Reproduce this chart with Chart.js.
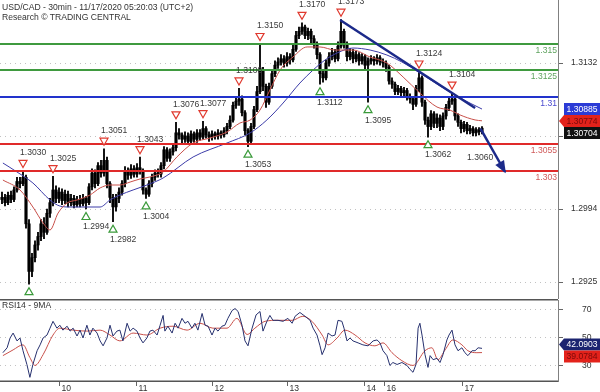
<!DOCTYPE html>
<html><head><meta charset="utf-8">
<script src="https://cdn.jsdelivr.net/npm/chart.js@4/dist/chart.umd.min.js"></script>
<style>
html,body{margin:0;padding:0;background:#fff;}
#wrap{position:relative;width:600px;height:392px;overflow:hidden;font-family:"Liberation Sans",Arial,sans-serif;}
#main{position:absolute;left:0;top:0;}
#rsi{position:absolute;left:0;top:299px;}
.hdr{position:absolute;left:2px;font-size:8.6px;color:#333;line-height:10px;white-space:nowrap;}
</style></head><body>
<div id="wrap">
<canvas id="main" width="600" height="299"></canvas>
<canvas id="rsi" width="600" height="93"></canvas>
<div class="hdr" style="top:1.5px">USD/CAD - 30min - 11/17/2020 05:20:03 (UTC+2)</div>
<div class="hdr" style="top:11.5px">Research © TRADING CENTRAL</div>
<div class="hdr" style="top:300px">RSI14 - 9MA</div>
</div>
<script>
// ---- price bars (30-min candles, bar index 0..160) ----
const open = [1.3003,1.3005,1.3000,1.3007,1.3003,1.3012,1.3020,1.3018,1.3024,1.2980,
1.2935,1.2948,1.2960,1.2968,1.2980,1.2972,1.2990,1.3000,1.3012,1.3004,
1.3010,1.3002,1.3008,1.3000,1.3004,1.2998,1.3003,1.2999,1.3004,1.3000,
1.3015,1.3028,1.3018,1.3035,1.3028,1.3040,1.3018,1.3005,1.2996,1.3004,
1.3010,1.3018,1.3030,1.3026,1.3032,1.3027,1.3033,1.3030,1.3012,1.3008,
1.3018,1.3024,1.3028,1.3027,1.3035,1.3050,1.3042,1.3048,1.3052,1.3066,
1.3064,1.3060,1.3063,1.3058,1.3065,1.3060,1.3066,1.3062,1.3070,1.3064,
1.3062,1.3065,1.3063,1.3066,1.3064,1.3068,1.3072,1.3078,1.3092,1.3096,
1.3098,1.3085,1.3068,1.3058,1.3072,1.3088,1.3105,1.3125,1.3110,1.3095,
1.3110,1.3122,1.3130,1.3133,1.3136,1.3132,1.3138,1.3135,1.3145,1.3158,
1.3162,1.3166,1.3158,1.3162,1.3155,1.3150,1.3140,1.3122,1.3118,1.3132,
1.3138,1.3142,1.3136,1.3148,1.3162,1.3150,1.3138,1.3142,1.3136,1.3140,
1.3134,1.3138,1.3130,1.3134,1.3136,1.3134,1.3137,1.3133,1.3132,1.3128,
1.3115,1.3112,1.3105,1.3108,1.3104,1.3106,1.3100,1.3098,1.3093,1.3108,
1.3118,1.3095,1.3078,1.3072,1.3084,1.3075,1.3080,1.3072,1.3082,1.3090,
1.3096,1.3098,1.3082,1.3076,1.3070,1.3074,1.3068,1.3070,1.3066,1.3069,
1.3067];
const close = [1.3005,1.3000,1.3007,1.3003,1.3012,1.3020,1.3018,1.3024,1.2980,1.2935,
1.2948,1.2960,1.2968,1.2980,1.2972,1.2990,1.3000,1.3012,1.3004,1.3010,
1.3002,1.3008,1.3000,1.3004,1.2998,1.3003,1.2999,1.3004,1.3000,1.3015,
1.3028,1.3018,1.3035,1.3028,1.3040,1.3018,1.3005,1.2996,1.3004,1.3010,
1.3018,1.3030,1.3026,1.3032,1.3027,1.3033,1.3030,1.3012,1.3008,1.3018,
1.3024,1.3028,1.3027,1.3035,1.3050,1.3042,1.3048,1.3052,1.3066,1.3064,
1.3060,1.3063,1.3058,1.3065,1.3060,1.3066,1.3062,1.3070,1.3064,1.3062,
1.3065,1.3063,1.3066,1.3064,1.3068,1.3072,1.3078,1.3092,1.3096,1.3098,
1.3085,1.3068,1.3058,1.3072,1.3088,1.3105,1.3125,1.3110,1.3095,1.3110,
1.3122,1.3130,1.3133,1.3136,1.3132,1.3138,1.3135,1.3145,1.3158,1.3162,
1.3166,1.3158,1.3162,1.3155,1.3150,1.3140,1.3122,1.3118,1.3132,1.3138,
1.3142,1.3136,1.3148,1.3162,1.3150,1.3138,1.3142,1.3136,1.3140,1.3134,
1.3138,1.3130,1.3134,1.3136,1.3134,1.3137,1.3133,1.3132,1.3128,1.3115,
1.3112,1.3105,1.3108,1.3104,1.3106,1.3100,1.3098,1.3093,1.3108,1.3118,
1.3095,1.3078,1.3072,1.3084,1.3075,1.3080,1.3072,1.3082,1.3090,1.3096,
1.3098,1.3082,1.3076,1.3070,1.3074,1.3068,1.3070,1.3066,1.3069,1.3067,
1.30704];
const high = [1.3010,1.3008,1.3010,1.3011,1.3015,1.3024,1.3024,1.3030,1.3026,1.2984,
1.2952,1.2964,1.2972,1.2984,1.2986,1.2994,1.3004,1.3025,1.3016,1.3014,
1.3013,1.3012,1.3011,1.3008,1.3007,1.3006,1.3007,1.3008,1.3006,1.3018,
1.3032,1.3031,1.3038,1.3040,1.3051,1.3043,1.3020,1.3008,1.3008,1.3014,
1.3021,1.3034,1.3033,1.3036,1.3035,1.3037,1.3043,1.3032,1.3014,1.3021,
1.3027,1.3031,1.3032,1.3038,1.3053,1.3052,1.3051,1.3056,1.3076,1.3070,
1.3066,1.3067,1.3066,1.3068,1.3067,1.3069,1.3069,1.3077,1.3072,1.3067,
1.3068,1.3067,1.3069,1.3068,1.3071,1.3075,1.3082,1.3095,1.3100,1.3108,
1.3101,1.3087,1.3070,1.3075,1.3091,1.3110,1.3150,1.3128,1.3112,1.3113,
1.3126,1.3134,1.3137,1.3140,1.3139,1.3142,1.3141,1.3149,1.3162,1.3166,
1.3170,1.3168,1.3165,1.3164,1.3158,1.3152,1.3142,1.3125,1.3135,1.3142,
1.3146,1.3145,1.3152,1.3173,1.3164,1.3152,1.3146,1.3145,1.3143,1.3142,
1.3141,1.3140,1.3137,1.3139,1.3138,1.3140,1.3139,1.3136,1.3134,1.3130,
1.3118,1.3114,1.3111,1.3110,1.3109,1.3108,1.3103,1.3100,1.3111,1.3124,
1.3120,1.3097,1.3081,1.3087,1.3086,1.3084,1.3083,1.3085,1.3093,1.3099,
1.3104,1.3100,1.3084,1.3078,1.3077,1.3076,1.3073,1.3072,1.3071,1.3071,
1.3072];
const low = [1.2999,1.2997,1.2998,1.3000,1.3001,1.3010,1.3014,1.3016,1.2976,1.2923,
1.2930,1.2944,1.2955,1.2964,1.2966,1.2970,1.2986,1.2997,1.3000,1.3000,
1.2998,1.2999,1.2996,1.2997,1.2995,1.2996,1.2996,1.2997,1.2994,1.2998,
1.3012,1.3014,1.3016,1.3024,1.3025,1.3014,1.3000,1.2982,1.2992,1.3000,
1.3007,1.3015,1.3022,1.3023,1.3024,1.3024,1.3027,1.3008,1.3004,1.3006,
1.3015,1.3021,1.3024,1.3024,1.3032,1.3039,1.3039,1.3045,1.3049,1.3060,
1.3056,1.3057,1.3055,1.3055,1.3057,1.3057,1.3059,1.3060,1.3061,1.3058,
1.3059,1.3060,1.3060,1.3061,1.3062,1.3065,1.3070,1.3076,1.3089,1.3092,
1.3082,1.3064,1.3053,1.3056,1.3070,1.3086,1.3103,1.3106,1.3090,1.3093,
1.3108,1.3119,1.3127,1.3130,1.3128,1.3129,1.3131,1.3133,1.3143,1.3155,
1.3159,1.3155,1.3154,1.3151,1.3146,1.3136,1.3112,1.3114,1.3116,1.3129,
1.3135,1.3133,1.3134,1.3146,1.3146,1.3134,1.3135,1.3132,1.3133,1.3130,
1.3131,1.3126,1.3095,1.3131,1.3130,1.3131,1.3130,1.3128,1.3124,1.3112,
1.3108,1.3102,1.3102,1.3100,1.3101,1.3097,1.3094,1.3088,1.3091,1.3105,
1.3091,1.3074,1.3062,1.3069,1.3071,1.3071,1.3068,1.3069,1.3079,1.3087,
1.3093,1.3078,1.3072,1.3066,1.3067,1.3065,1.3065,1.3063,1.3063,1.3064,
1.3065];

// ---- moving averages (bar index, price) ----
const maRedX = [0.3,6,10.3,13.7,16,18.7,21.7,25,29.3,32.7,36,39.3,42.7,46,49.3,53.7,58.3,63.7,69.3,75,79.3,82.7,86,89.3,92.7,97,101.7,106,111,117,122.7,128.3,133.7,139.3,145,149.3,152.7,157.7,160];
const maRedY = [1.30214,1.30120,1.29959,1.29808,1.29742,1.29902,1.29997,1.30025,1.30072,1.30139,1.30167,1.30167,1.30195,1.30224,1.30243,1.30290,1.30432,1.30564,1.30611,1.30668,1.30753,1.30781,1.30876,1.31065,1.31254,1.31377,1.31472,1.31472,1.31443,1.31443,1.31377,1.31320,1.31188,1.31037,1.30904,1.30876,1.30829,1.30782,1.30774];
const maBlueX = [0.3,5,10.3,16,19.3,22.7,27,32.7,36,39.3,43.7,48.3,53.7,63.7,75,82.7,88.3,93.7,99.3,103.7,107.7,111.7,117,122.7,128.3,133.3,139.3,146,152.7,160];
const maBlueY = [1.30375,1.30290,1.30186,1.30025,1.29968,1.29959,1.29959,1.29959,1.30025,1.30072,1.30120,1.30167,1.30233,1.30432,1.30564,1.30659,1.30782,1.30942,1.31131,1.31254,1.31349,1.31415,1.31462,1.31443,1.31396,1.31330,1.31226,1.31103,1.30990,1.30885];

// ---- levels, trend line, projection ----
const levels = [1.3150, 1.3125, 1.3100, 1.3055, 1.3030];
const levelLabels = ['1.315', '1.3125', '1.31', '1.3055', '1.303'];
const levelColors = ['#3f9a3f', '#3f9a3f', '#2233cc', '#e02a2a', '#e02a2a'];
const levelTextColors = ['#5fa35f', '#5fa35f', '#4a4ad0', '#d05a5a', '#d05a5a'];
const trendX = [112.7, 157.7];
const trendY = [1.31727, 1.30895];
const arrowX = [159.5, 167.7];
const arrowY = [1.3070, 1.3029];

// ---- swing markers ----
const highIdx = [7,17,34,46,58,67,79,86,100,113,139,150];
const highVal = [1.3030,1.3025,1.3051,1.3043,1.3076,1.3077,1.3108,1.3150,1.3170,1.3173,1.3124,1.3104];
const highLbl = ['1.3030','1.3025','1.3051','1.3043','1.3076','1.3077','1.3108','1.3150','1.3170','1.3173','1.3124','1.3104'];
const lowIdx = [9,28,37,48,82,106,122,142];
const lowVal = [1.2923,1.2994,1.2982,1.3004,1.3053,1.3112,1.3095,1.3062];
const lowLbl = ['1.2923','1.2994','1.2982','1.3004','1.3053','1.3112','1.3095','1.3062'];
const targetIdx = [156];
const targetVal = [1.3060];
const targetLbl = ['1.3060'];

// ---- axes ----
const priceTicks = [1.3132, 1.3063, 1.2994, 1.2925];
const rsiTicks = [30, 50, 70];
const dayPos = [19, 44.67, 70, 95, 120.67, 127.33, 153.33];
const dayLbl = ['10','11','12','13','14','16','17'];

// ---- RSI14 and its 9MA (bar index, value) ----
const rsiX = [0.3,1.7,2.7,3.7,5,6,7,8.3,9.3,10.3,11.7,12.7,13.7,15,16,17,18.3,19.3,20.3,21.7,
22.7,23.7,25,26,27,28.3,29.3,30.3,31.7,32.7,33.7,35,36,37,38.3,39.3,40.3,41.7,42.7,43.7,
45,46,47,48.3,49.3,50.3,51.7,52.7,53.7,54.3,55.3,56.7,57.7,58.7,60,61,62,63.3,64.3,65.3,
66.7,67.7,68.7,70,71,72,73.3,74.3,75.3,76.7,77.7,78.7,80,81,82,83.3,84.7,86,87,88.3,
89.3,90.3,92,93.7,95.3,96.7,97.7,99.3,101,102.7,103.7,105,106,106.7,107.7,108.7,110,111,112,113.3,
114,115,116,117,118.7,120.3,122,123.7,125,126,127,128.3,129.3,130.3,131.7,133.3,135,136,137,138,
138.7,139.3,140,141,142,142.7,143.7,145,146,147,148.3,149,150,151,152,153.3,154.3,155.3,156.7,157.7,
158.7,160];
const rsiY = [39,42.5,49.5,53,47.4,49.5,40.4,30.6,21.4,30.6,40.4,44.6,49.5,51.6,56.5,61.4,56.5,58.6,55.1,57.9,
54.4,56.5,50.9,55.1,49.5,58.6,51.6,56.5,53,47.4,43.9,49.5,58.6,50.9,54.4,55.1,47.4,60,54.4,56.5,
54.4,49.5,46,49.5,54.4,55.1,51.6,58.6,65.6,54.4,57.9,53,60,56.5,63.5,60,61.4,56.5,60,55.1,
67,58.6,57.9,51.6,56.5,54.4,57.9,58.6,63.5,69.1,70.5,68.4,58.6,47.4,43.9,56,66,68.4,54.4,61.4,
65.6,62.1,62.1,61.4,63.5,60,65,67.7,65,62.1,56.5,51.6,43.9,37.6,42.5,53,50.9,51.6,62.1,61.4,
56.5,47.4,49.5,47.4,46,44.6,43.9,47.4,48.1,46,40.4,36.9,29.9,32,30.6,32,29.9,27.1,25,30.6,
56.5,60,51.6,37.6,28.5,36.9,34,35,32,37.6,48.1,51.6,55.1,44.6,40.4,42.5,39,36.9,40.4,40.4,
42.5,42.0903];
const rsiMaX = [0.3,3.7,7,9.3,11,13.7,17,19.3,23.7,28.3,32.7,36,39.3,43.7,48.3,52.7,57,61.7,66,70.3,75,78.3,81.7,84.3,87.7,92,96.7,100.3,103.3,106.7,108.7,111.7,114.3,117.7,121,124.3,127,130,133.3,137,141,143.3,145.3,147.7,150.3,153.3,155.3,158.3,160];
const rsiMaY = [36.9,41,44.6,35.5,29.9,37.6,51.6,56.5,55.1,54.4,55.1,51.6,47.4,53,51.6,56.5,57.9,55.1,60,56.5,56.5,63.5,52,56.5,61.4,62.1,62.1,65,61.4,51.6,44.6,49.5,55.1,51.6,46,43.9,46,39,33.3,29.9,40.4,42.5,34,41,48.1,44.6,40.4,39,39.0784];

// ================= drawing =================
const X_MIN = -0.6667, X_MAX = 185.3333;
const FONT = '8.6px "Liberation Sans", Arial, sans-serif';
Chart.defaults.font.family = '"Liberation Sans", Arial, sans-serif';
Chart.defaults.font.size = 8.6;
Chart.defaults.color = '#333';
const pts = (xs, ys) => xs.map((x, k) => ({x, y: ys[k]}));
const idx = close.map((_, i) => i);

function dotted(ctx, a, py) {
  ctx.save(); ctx.strokeStyle = '#c2c2c2'; ctx.lineWidth = 1; ctx.setLineDash([1, 4]);
  ctx.beginPath(); ctx.moveTo(a.left, Math.round(py) + 0.5); ctx.lineTo(a.right, Math.round(py) + 0.5); ctx.stroke();
  ctx.restore();
}
function stackBoxes(list, symmetric) {
  list.sort((p, q) => p.y - q.y);
  let push = 0;
  for (let k = 1; k < list.length; k++) {
    if (list[k].y - list[k - 1].y < 12) { const d = list[k - 1].y + 12 - list[k].y; list[k].y += d; push += d; }
  }
  if (symmetric) list.forEach(b => b.y -= push / 2);
  return list;
}
function drawBox(ctx, a, b) {
  const x0 = a.right + 6, x1 = 600, h = 12, yc = b.y;
  ctx.save();
  ctx.fillStyle = b.bg; ctx.beginPath();
  if (b.ptr) { ctx.moveTo(a.right + 1, yc); ctx.lineTo(x0, yc - h / 2); } else ctx.moveTo(x0, yc - h / 2);
  ctx.lineTo(x1, yc - h / 2); ctx.lineTo(x1, yc + h / 2); ctx.lineTo(x0, yc + h / 2); ctx.closePath(); ctx.fill();
  ctx.fillStyle = b.fg; ctx.font = FONT; ctx.textAlign = 'left'; ctx.textBaseline = 'middle';
  ctx.fillText(b.t, x0 + 2.5, yc + 0.5);
  ctx.restore();
}
function tri(ctx, px, cy, up, color) {
  ctx.save(); ctx.strokeStyle = color; ctx.lineWidth = 1.2; ctx.fillStyle = '#fff';
  ctx.beginPath();
  if (up) { ctx.moveTo(px - 4, cy + 3.5); ctx.lineTo(px + 4, cy + 3.5); ctx.lineTo(px, cy - 3.5); }
  else { ctx.moveTo(px - 4, cy - 3.5); ctx.lineTo(px + 4, cy - 3.5); ctx.lineTo(px, cy + 3.5); }
  ctx.closePath(); ctx.fill(); ctx.stroke(); ctx.restore();
}

const mainDeco = {
  id: 'mainDeco',
  beforeDatasetsDraw(chart) {
    const {ctx, chartArea: a, scales: {y}} = chart;
    priceTicks.forEach(v => dotted(ctx, a, y.getPixelForValue(v)));
  },
  beforeDatasetDraw(chart, args) {
    if (chart.data.datasets[args.index].label !== 'arrow') return;
    const {ctx, chartArea: a, scales: {y}} = chart;
    ctx.save();
    levels.forEach((v, k) => {
      const py = Math.round(y.getPixelForValue(v));
      ctx.strokeStyle = levelColors[k]; ctx.lineWidth = 2;
      ctx.beginPath(); ctx.moveTo(a.left, py); ctx.lineTo(a.right, py); ctx.stroke();
      ctx.fillStyle = levelTextColors[k]; ctx.font = FONT; ctx.textAlign = 'right'; ctx.textBaseline = 'top';
      ctx.fillText(levelLabels[k], a.right - 1, py + 2);
    });
    ctx.restore();
  },
  afterDatasetsDraw(chart) {
    const {ctx, scales: {x, y}} = chart;
    const x0 = x.getPixelForValue(arrowX[0]), y0 = y.getPixelForValue(arrowY[0]);
    const x1 = x.getPixelForValue(arrowX[1]), y1 = y.getPixelForValue(arrowY[1]);
    const ang = Math.atan2(y1 - y0, x1 - x0), L = 11, W = 5;
    ctx.save(); ctx.fillStyle = '#1c2a8a'; ctx.beginPath();
    ctx.moveTo(x1 + 1.5 * Math.cos(ang), y1 + 1.5 * Math.sin(ang));
    ctx.lineTo(x1 - L * Math.cos(ang) + W * Math.sin(ang), y1 - L * Math.sin(ang) - W * Math.cos(ang));
    ctx.lineTo(x1 - L * Math.cos(ang) - W * Math.sin(ang), y1 - L * Math.sin(ang) + W * Math.cos(ang));
    ctx.closePath(); ctx.fill(); ctx.restore();
  },
  afterDraw(chart) {
    const {ctx, chartArea: a, scales: {x, y}} = chart;
    ctx.save(); ctx.font = FONT; ctx.textAlign = 'left'; ctx.textBaseline = 'middle';
    highIdx.forEach((b, k) => {
      const px = x.getPixelForValue(b), py = y.getPixelForValue(highVal[k]);
      tri(ctx, px, py - 7, false, '#e0392e');
      ctx.fillStyle = '#3a3a3a'; ctx.fillText(highLbl[k], px - 3, py - 18);
    });
    lowIdx.forEach((b, k) => {
      const px = x.getPixelForValue(b), py = y.getPixelForValue(lowVal[k]);
      tri(ctx, px, py + 7, true, '#3a9a3a');
      if (py + 18 < a.bottom - 5) { ctx.fillStyle = '#3a3a3a'; ctx.fillText(lowLbl[k], px - 3, py + 18); }
    });
    targetIdx.forEach((b, k) => {
      const px = x.getPixelForValue(b), py = y.getPixelForValue(targetVal[k]);
      ctx.fillStyle = '#3a3a3a'; ctx.fillText(targetLbl[k], px - 3, py + 18);
    });
    ctx.restore();
    const boxes = stackBoxes([
      {y: y.getPixelForValue(maBlueY[maBlueY.length - 1]), t: maBlueY[maBlueY.length - 1].toFixed(5), bg: '#2b3bd6', fg: '#fff', ptr: false},
      {y: y.getPixelForValue(maRedY[maRedY.length - 1]), t: maRedY[maRedY.length - 1].toFixed(5), bg: '#e3221b', fg: '#7a0a0a', ptr: true},
      {y: y.getPixelForValue(close[close.length - 1]), t: close[close.length - 1].toFixed(5), bg: '#111', fg: '#fff', ptr: false}
    ], false);
    boxes.forEach(b => drawBox(ctx, a, b));
  }
};

new Chart(document.getElementById('main'), {
  type: 'bar',
  data: { datasets: [
    {type: 'line', label: 'trend', data: pts(trendX, trendY), borderColor: '#1c2a8a', borderWidth: 2.5, pointRadius: 0, order: 0},
    {type: 'line', label: 'arrow', data: pts(arrowX, arrowY), borderColor: '#1c2a8a', borderWidth: 2.5, pointRadius: 0, order: 1},
    {type: 'line', label: 'MA fast', data: pts(maRedX, maRedY), borderColor: '#c8504a', borderWidth: 1, pointRadius: 0, cubicInterpolationMode: 'monotone', order: 2},
    {type: 'line', label: 'MA slow', data: pts(maBlueX, maBlueY), borderColor: '#3c3ca8', borderWidth: 1, pointRadius: 0, cubicInterpolationMode: 'monotone', order: 3},
    {label: 'bodies', data: idx.map(i => ({x: i, y: [open[i], close[i]]})), backgroundColor: '#000', barThickness: 2.5, grouped: false, order: 4},
    {label: 'wicks', data: idx.map(i => ({x: i, y: [low[i], high[i]]})), backgroundColor: '#111', barThickness: 1.3, grouped: false, order: 5}
  ]},
  options: {
    responsive: false, animation: false, devicePixelRatio: 1,
    layout: {padding: {left: 0, right: 0, top: 0, bottom: 0}},
    plugins: {legend: {display: false}, tooltip: {enabled: false}},
    scales: {
      x: {type: 'linear', min: X_MIN, max: X_MAX, display: false, offset: false},
      y: {position: 'right', min: 1.290893, max: 1.319160,
        afterBuildTicks: ax => { ax.ticks = priceTicks.map(v => ({value: v})); },
        afterFit: ax => { ax.width = 42; ax.paddingTop = 0; ax.paddingBottom = 0; },
        ticks: {callback: v => Number(v).toFixed(4), padding: 8, color: '#333', font: {size: 8.6}},
        grid: {drawOnChartArea: false, drawTicks: true, tickLength: 5, tickColor: '#666'},
        border: {display: true, color: '#808080', width: 1}
      }
    }
  },
  plugins: [mainDeco]
});

const rsiDeco = {
  id: 'rsiDeco',
  beforeDatasetsDraw(chart) {
    const {ctx, chartArea: a, scales: {y}} = chart;
    rsiTicks.forEach(v => dotted(ctx, a, y.getPixelForValue(v)));
  },
  afterDraw(chart) {
    const {ctx, chartArea: a, scales: {x, y}} = chart;
    ctx.save(); ctx.strokeStyle = '#555'; ctx.lineWidth = 1.5;
    ctx.beginPath(); ctx.moveTo(0, a.top - 0.25); ctx.lineTo(a.right, a.top - 0.25); ctx.stroke();
    ctx.beginPath(); ctx.moveTo(0, a.bottom + 0.25); ctx.lineTo(a.right, a.bottom + 0.25); ctx.stroke();
    ctx.strokeStyle = '#666'; ctx.lineWidth = 1; ctx.font = FONT; ctx.fillStyle = '#333';
    ctx.textAlign = 'left'; ctx.textBaseline = 'alphabetic';
    dayPos.forEach((d, k) => {
      const px = Math.round(x.getPixelForValue(d)) + 0.5;
      ctx.beginPath(); ctx.moveTo(px, a.bottom + 1); ctx.lineTo(px, a.bottom + 5); ctx.stroke();
      ctx.fillText(dayLbl[k], px + 2, a.bottom + 9.5);
    });
    ctx.restore();
    const boxes = stackBoxes([
      {y: y.getPixelForValue(rsiY[rsiY.length - 1]), t: rsiY[rsiY.length - 1].toFixed(4), bg: '#1c2470', fg: '#fff', ptr: true},
      {y: y.getPixelForValue(rsiMaY[rsiMaY.length - 1]), t: rsiMaY[rsiMaY.length - 1].toFixed(4), bg: '#e3221b', fg: '#7a0a0a', ptr: false}
    ], true);
    boxes.forEach(b => drawBox(ctx, a, b));
  }
};

new Chart(document.getElementById('rsi'), {
  type: 'line',
  data: { datasets: [
    {label: 'RSI14', data: pts(rsiX, rsiY), borderColor: '#26306e', borderWidth: 1, pointRadius: 0, order: 0},
    {label: '9MA', data: pts(rsiMaX, rsiMaY), borderColor: '#c8504a', borderWidth: 1, pointRadius: 0, cubicInterpolationMode: 'monotone', order: 1}
  ]},
  options: {
    responsive: false, animation: false, devicePixelRatio: 1,
    layout: {padding: {left: 0, right: 0, top: 1, bottom: 11}},
    plugins: {legend: {display: false}, tooltip: {enabled: false}},
    scales: {
      x: {type: 'linear', min: X_MIN, max: X_MAX, display: false, offset: false},
      y: {position: 'right', min: 18.8, max: 76.6,
        afterBuildTicks: ax => { ax.ticks = rsiTicks.map(v => ({value: v})); },
        afterFit: ax => { ax.width = 42; ax.paddingTop = 0; ax.paddingBottom = 0; },
        ticks: {callback: v => String(v), padding: 19, color: '#333', font: {size: 8.6}},
        grid: {drawOnChartArea: false, drawTicks: true, tickLength: 5, tickColor: '#666'},
        border: {display: true, color: '#808080', width: 1}
      }
    }
  },
  plugins: [rsiDeco]
});
</script>
</body></html>
